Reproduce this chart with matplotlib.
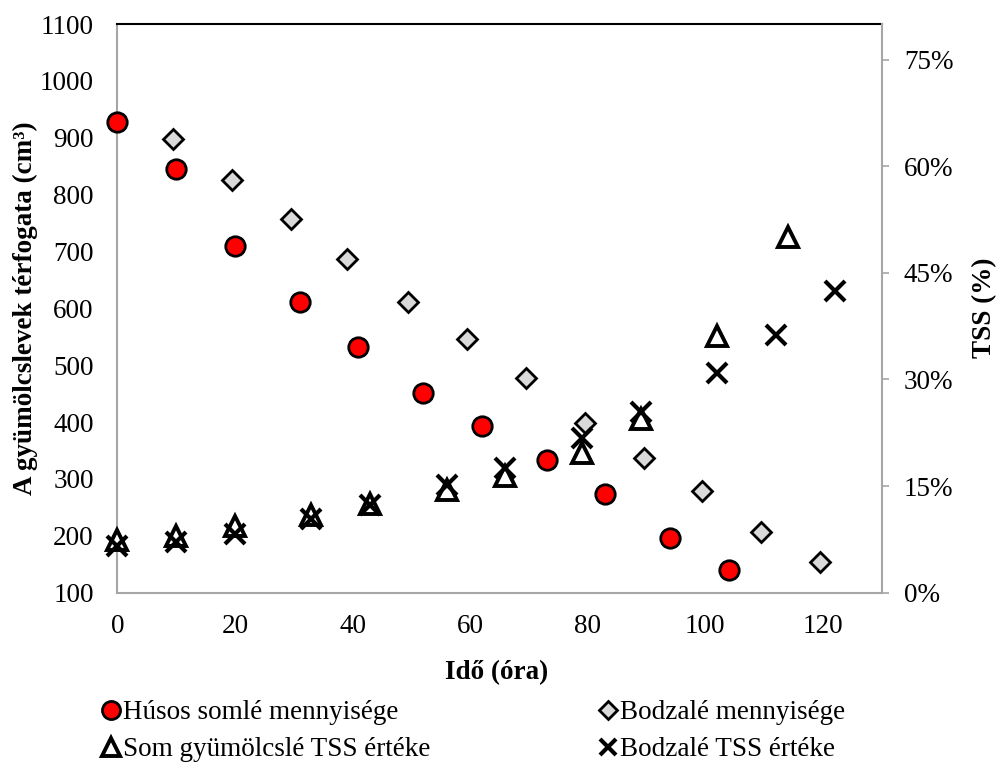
import matplotlib
matplotlib.use("Agg")
import matplotlib.pyplot as plt
from matplotlib.lines import Line2D
from matplotlib.ticker import FuncFormatter

plt.rcParams['font.family'] = ['Liberation Serif', 'DejaVu Serif']

# Volume of juices (cm3), left axis
t_somle = [0, 10, 20, 31, 41, 52, 62, 73, 83, 94, 104]
v_somle = [927, 845, 710, 612, 532, 451, 393, 333, 273, 197, 140]

t_bodza = [9.5, 19.5, 29.5, 39, 49.5, 59.5, 69.5, 79.5, 89.5, 99.5, 109.5, 119.5]
v_bodza = [897, 826, 758, 686, 612, 547, 477, 399, 337, 278, 206, 154]

# TSS values (fraction), right axis
t_som_tss = [0, 10, 20, 33, 43, 56, 66, 79, 89, 102, 114]
p_som_tss = [0.074, 0.080, 0.094, 0.110, 0.125, 0.144, 0.164, 0.196, 0.245, 0.361, 0.500]

t_bodza_tss = [0, 10, 20, 33, 43, 56, 66, 79, 89, 102, 112, 122]
p_bodza_tss = [0.066, 0.072, 0.082, 0.104, 0.123, 0.152, 0.175, 0.218, 0.254, 0.309, 0.362, 0.425]

x_ticks = [0, 20, 40, 60, 80, 100, 120]
y_ticks = [100, 200, 300, 400, 500, 600, 700, 800, 900, 1000, 1100]
tss_ticks = [0, 0.15, 0.30, 0.45, 0.60, 0.75]

labels = ["Húsos somlé mennyisége", "Som gyümölcslé TSS értéke",
          "Bodzalé mennyisége", "Bodzalé TSS értéke"]

GRAY = "#A6A6A6"
FS = 19.5
W, H = 997, 765

fig = plt.figure(figsize=(9.97, 7.65), dpi=100)
ax = fig.add_axes([0.1177, 0.2252, 0.7666, 0.7434])
ax2 = ax.twinx()

circle_style = dict(linestyle="none", marker="o", markersize=14, markerfacecolor="#FF0000",
                    markeredgecolor="black", markeredgewidth=2)
diamond_style = dict(linestyle="none", marker="D", markersize=10, markerfacecolor="#D9D9D9",
                     markeredgecolor="black", markeredgewidth=2)
tri_style = dict(linestyle="none", marker="^", markersize=15, markerfacecolor="white",
                 markeredgecolor="black", markeredgewidth=2.8)
x_style = dict(linestyle="none", marker="x", markersize=14.5, markeredgecolor="black",
               markeredgewidth=3)

ax.plot(t_somle, v_somle, clip_on=False, zorder=5, **circle_style)
ax.plot(t_bodza, v_bodza, clip_on=False, zorder=5, **diamond_style)
ax2.plot(t_som_tss, p_som_tss, clip_on=False, zorder=5, **tri_style)
ax2.plot(t_bodza_tss, p_bodza_tss, clip_on=False, zorder=6, **x_style)

ax.set_xlim(0, 130)
ax.set_ylim(100, 1100)
ax2.set_ylim(0, 0.8)

ax.set_xticks(x_ticks)
ax.set_yticks(y_ticks)
ax2.set_yticks(tss_ticks)
ax2.yaxis.set_major_formatter(FuncFormatter(lambda v, _: f"{v * 100:.0f}%"))

ax.tick_params(axis="x", length=0, pad=15, labelsize=FS)
ax.tick_params(axis="y", length=0, pad=17, labelsize=FS)
ax2.tick_params(axis="y", direction="out", length=5, width=1.2, color=GRAY, pad=11, labelsize=FS)

for s in ["left", "bottom"]:
    ax.spines[s].set_color(GRAY)
    ax.spines[s].set_linewidth(1.5)
ax.spines["top"].set_color("black")
ax.spines["top"].set_linewidth(1.5)
ax.spines["right"].set_visible(False)
for s in ["left", "bottom", "top"]:
    ax2.spines[s].set_visible(False)
ax2.spines["right"].set_color(GRAY)
ax2.spines["right"].set_linewidth(1.5)

# Axis titles
fig.text(25 / W, 1 - 308 / H, "A gyümölcslevek térfogata (cm³)", fontsize=FS,
         fontweight="bold", rotation=90, ha="center", va="center")
fig.text(985 / W, 1 - 308 / H, "TSS (%)", fontsize=FS, fontweight="bold",
         rotation=90, ha="center", va="center")
fig.text(497 / W, 1 - 673 / H, "Idő (óra)", fontsize=FS, fontweight="bold",
         ha="center", va="center")

handles = [
    Line2D([], [], **{**circle_style, "markersize": 13}),
    Line2D([], [], **{**tri_style, "markersize": 13}),
    Line2D([], [], **{**diamond_style, "markersize": 9}),
    Line2D([], [], **{**x_style, "markersize": 12}),
]
fig.legend(handles, labels, loc="upper left", bbox_to_anchor=(103 / W, 1 - 700 / H),
           ncol=2, frameon=False, fontsize=FS, handlelength=0.6, handletextpad=0.15,
           columnspacing=6.25, labelspacing=0.45, borderaxespad=0, borderpad=0)

fig.savefig("out.png", dpi=100)
